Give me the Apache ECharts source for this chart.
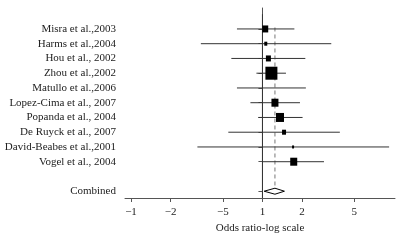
<!DOCTYPE html>
<html>
<head>
<meta charset="utf-8">
<script src="https://cdn.jsdelivr.net/npm/echarts@6/dist/echarts.min.js"></script>
<style>
  html, body { margin: 0; padding: 0; background: #fff; }
  #chart { width: 405px; height: 240px; }
</style>
</head>
<body>
<div id="chart"></div>
<script>
// studies, top to bottom
var studies = ['Misra et al.,2003', 'Harms et al.,2004', 'Hou et al., 2002', 'Zhou et al.,2002',
  'Matullo et al.,2006', 'Lopez-Cima et al., 2007', 'Popanda et al., 2004', 'De Ruyck et al., 2007',
  'David-Beabes et al.,2001', 'Vogel et al., 2004'];
var oddsRatio = [1.05, 1.06, 1.11, 1.17, 1.17, 1.245, 1.36, 1.46, 1.71, 1.73];
var ciLow = [0.64, 0.34, 0.58, 0.90, 0.64, 0.81, 0.93, 0.55, 0.32, 1.00];
var ciHigh = [1.75, 3.34, 2.12, 1.51, 2.14, 1.93, 2.02, 3.88, 9.2, 2.94];
var weights = [6, 3, 5, 12, 0, 7, 8, 4, 2, 7];

var combinedLabel = 'Combined';
var pooledOR = 1.245;
var pooledLow = 1.03;
var pooledHigh = 1.47;

var xTickValues = [0.1, 0.2, 0.5, 1, 2, 5];
var xTickLabels = ['\u22121', '\u22122', '\u22125', '1', '2', '5'];

var lg = Math.log10;
var combinedRow = studies.length + 2;

var rowNames = {};
studies.forEach(function (s, i) { rowNames[i + 1] = s; });
rowNames[combinedRow] = combinedLabel;
var rowTicks = studies.map(function (s, i) { return i + 1; }).concat([combinedRow]);

var studyData = studies.map(function (s, i) {
  return [lg(ciLow[i]), lg(ciHigh[i]), lg(oddsRatio[i]), i + 1, weights[i]];
});

var chart = echarts.init(document.getElementById('chart'));
var font = 'Liberation Serif';

chart.setOption({
  animation: false,
  textStyle: { fontFamily: font },
  grid: { left: 125, right: 10, top: 8, bottom: 42 },
  xAxis: {
    type: 'value',
    min: lg(0.09),
    max: lg(10.2),
    name: 'Odds ratio-log scale',
    nameLocation: 'middle',
    nameGap: 23,
    nameTextStyle: { color: '#222', fontSize: 11, fontFamily: font },
    axisLine: { show: true, onZero: false, lineStyle: { color: '#555' } },
    axisTick: { show: true, length: 4, customValues: xTickValues.map(lg), lineStyle: { color: '#555' } },
    axisLabel: {
      customValues: xTickValues.map(lg),
      margin: 9,
      color: '#222',
      fontSize: 11,
      fontFamily: font,
      formatter: function (v) {
        for (var i = 0; i < xTickValues.length; i++) {
          if (Math.abs(lg(xTickValues[i]) - v) < 1e-6) return xTickLabels[i];
        }
        return '';
      }
    },
    splitLine: { show: false }
  },
  yAxis: {
    type: 'value',
    inverse: true,
    min: -0.42,
    max: 12.46,
    axisLine: { show: true, lineStyle: { color: '#555' } },
    axisTick: { show: true, length: 4, customValues: rowTicks, lineStyle: { color: '#555' } },
    axisLabel: {
      customValues: rowTicks,
      margin: 9,
      color: '#222',
      fontSize: 11,
      fontFamily: font,
      formatter: function (v) { return rowNames[Math.round(v)] || ''; }
    },
    splitLine: { show: false }
  },
  series: [
    {
      // line of no effect
      type: 'line',
      data: [[0, 0], [0, 12.46]],
      symbol: 'none',
      lineStyle: { color: '#333', width: 1 },
      z: 1
    },
    {
      // pooled estimate
      type: 'line',
      data: [[lg(pooledOR), 0.9], [lg(pooledOR), combinedRow]],
      symbol: 'none',
      lineStyle: { color: '#777', width: 1, type: [4, 3] },
      z: 1
    },
    {
      type: 'custom',
      data: studyData,
      z: 3,
      renderItem: function (params, api) {
        var a = api.coord([api.value(0), api.value(3)]);
        var b = api.coord([api.value(1), api.value(3)]);
        var p = api.coord([api.value(2), api.value(3)]);
        var side = api.value(4);
        var children = [{
          type: 'line',
          shape: { x1: a[0], y1: a[1], x2: b[0], y2: b[1] },
          style: { stroke: '#333', lineWidth: 1 }
        }];
        if (side > 0) {
          children.push({
            type: 'rect',
            shape: { x: p[0] - side / 2, y: p[1] - side / 2 - 0.5, width: side, height: side + 1 },
            style: { fill: '#000' }
          });
        }
        return { type: 'group', children: children };
      }
    },
    {
      type: 'custom',
      data: [[lg(pooledLow), lg(pooledHigh), lg(pooledOR), combinedRow]],
      z: 3,
      renderItem: function (params, api) {
        var a = api.coord([api.value(0), api.value(3)]);
        var b = api.coord([api.value(1), api.value(3)]);
        var p = api.coord([api.value(2), api.value(3)]);
        var h = 3;
        return {
          type: 'polygon',
          shape: { points: [[a[0], a[1]], [p[0], p[1] - h], [b[0], b[1]], [p[0], p[1] + h]] },
          style: { fill: '#fff', stroke: '#000', lineWidth: 1 }
        };
      }
    }
  ]
});
</script>
</body>
</html>
